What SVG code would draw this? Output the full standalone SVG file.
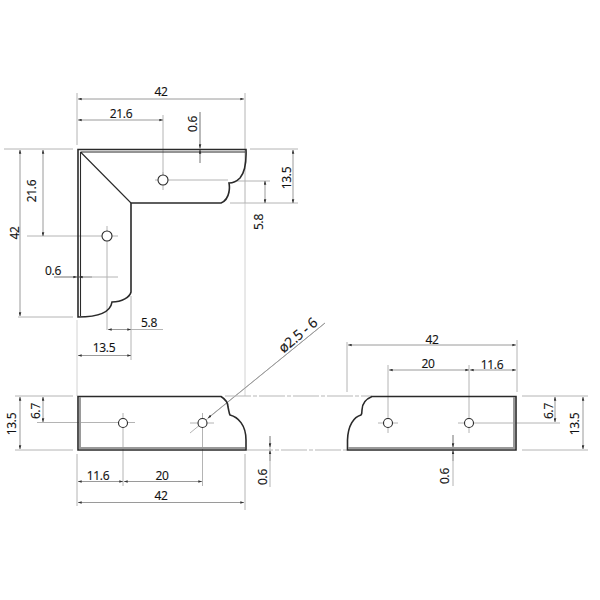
<svg xmlns="http://www.w3.org/2000/svg" width="600" height="600" viewBox="0 0 600 600">
<defs>
<marker id="a" viewBox="0 0 6 4" refX="5.5" refY="2" markerWidth="4" markerHeight="3" orient="auto-start-reverse"><path d="M0 0L6 2L0 4Z" fill="#333"/></marker>
</defs>
<style>
.p{fill:none;stroke:#2a2a2a;stroke-width:1.6;stroke-linejoin:miter}
.t{fill:none;stroke:#2a2a2a;stroke-width:1.1}
.g{fill:#9a9a9a;stroke:none}
.h{fill:#fff;stroke:#2a2a2a;stroke-width:1.1}
.e{stroke:#b4b4b4;stroke-width:1;fill:none}
.l{stroke:#d2d2d2;stroke-width:1;fill:none}
.d{stroke:#9a9a9a;stroke-width:1;fill:none;marker-start:url(#a);marker-end:url(#a)}
.s{stroke:#9a9a9a;stroke-width:1;fill:none;marker-end:url(#a)}
.c{stroke:#b8b8b8;stroke-width:1.2;stroke-dasharray:26 2 4 2;fill:none}
text{font-family:"Open Sans","Noto Sans","DejaVu Sans",sans-serif;font-size:12px;letter-spacing:-.3px;fill:#111;stroke:#111;stroke-width:.15;text-anchor:middle}
</style>
<g id="connectors">
<path class="e" d="M77 93V145M245 93V203M163 115V180"/>
<path class="l" d="M245 203V396M77 320V396"/>
<path class="e" d="M4 149H73M18 317H73M250 149H298M236 181H270M230 203H298M27 236H118M107 226V296M107 296V330M131 296V360M155 180H228M163 172V190M54 277H118"/>
<path class="e" d="M200 112V163"/>
<path class="d" d="M78 99H244"/>
<path class="d" d="M78 120H163"/>
<path class="d" d="M20 150V316"/>
<path class="d" d="M43 150V236"/>
<path class="d" d="M293 150V203"/>
<path class="d" d="M265 181V203"/>
<path class="d" d="M78 355.500H131"/>
<path class="d" d="M108 329.500H131"/>
<path class="e" d="M131 329.500H163"/>
<path class="s" d="M200 112V148"/>
<path class="s" d="M200 163V150"/>
<path class="s" d="M54 277H77"/>
<path class="s" d="M92 277H79"/>
<path class="e" d="M15 396H73M15 450H73M37 422.500H135M123 413V486M77 454V506M245 454V510M202.500 413V486M190 423H214"/>
<path class="d" d="M20 397V449"/>
<path class="d" d="M43 397V422"/>
<path class="d" d="M78 481.500H123"/>
<path class="d" d="M124 481.500H202"/>
<path class="d" d="M78 502.500H244"/>
<path class="e" d="M270 436V487"/>
<path class="s" d="M270 436V447"/>
<path class="s" d="M270 461V450.500"/>
<path class="e" d="M190 433L325 323"/>
<path class="s" d="M325 323L208 418"/>
<path class="c" d="M225 396H372M247 450H347"/>
<path class="e" d="M347 342V392M388 365V433M469 365V433M517 340V392M378 423H398M458 423H480M480 423H560M522 396H588M522 450H588M453 435V486"/>
<path class="d" d="M348 345H516"/>
<path class="d" d="M389 370H469"/>
<path class="d" d="M470 370H516"/>
<path class="d" d="M555 397V422"/>
<path class="d" d="M583 397V449"/>
<path class="s" d="M453 435V447"/>
<path class="s" d="M453 461V450.500"/>
</g>
<g id="corner-top">
<path class="p" d="M78 149.500H246C246.500 162 245 172 240 178C237 181 233 183 229 183C230 188 229 191 229 192C228 197 226 201 221 203H131V292C130 297 122 302 112 302C111 309 104 317 78 317Z"/>
<path class="t" d="M80.500 152H245M80.500 152V316M80.500 152L131 203"/>
<circle class="h" cx="163" cy="180" r="5"/>
<circle class="h" cx="107" cy="236" r="5"/>
</g>
<g id="side-left">
<path class="p" d="M78 396.500H221C225 399 228 403 228 407C229 411 229 413 230 415C238 417 246 425 246 440V450H78Z"/>
<path class="g" d="M79 397H81V447H245V449H79Z"/>
<circle class="h" cx="123" cy="423" r="4.500"/>
<circle class="h" cx="202.500" cy="423" r="4.500"/>
</g>
<g id="side-right">
<path class="p" d="M516 396.500H372C366 399 362 404 362 410C362 413 362 414 361 415C354 417 348 425 347.500 440V450H516Z"/>
<path class="g" d="M515 397H513V447H348V449H515Z"/>
<circle class="h" cx="388" cy="423" r="4.500"/>
<circle class="h" cx="469" cy="423" r="4.500"/>
</g>
<g id="labels">
<text x="161" y="96">42</text>
<text x="121" y="118">21.6</text>
<text transform="translate(197 124) rotate(-90)">0.6</text>
<text transform="translate(36 191) rotate(-90)">21.6</text>
<text transform="translate(19 233) rotate(-90)">42</text>
<text x="53" y="275">0.6</text>
<text transform="translate(291 178) rotate(-90)">13.5</text>
<text transform="translate(263 222) rotate(-90)">5.8</text>
<text x="149" y="327">5.8</text>
<text x="104" y="352">13.5</text>
<text transform="translate(301 339) rotate(-40)" style="font-size:14px">ø2.5 - 6</text>
<text x="432" y="344">42</text>
<text x="428" y="368">20</text>
<text x="492" y="369">11.6</text>
<text transform="translate(40 411) rotate(-90)">6.7</text>
<text transform="translate(16 424) rotate(-90)">13.5</text>
<text x="98" y="480">11.6</text>
<text x="162" y="480">20</text>
<text x="161" y="500">42</text>
<text transform="translate(267 477) rotate(-90)">0.6</text>
<text transform="translate(449 476) rotate(-90)">0.6</text>
<text transform="translate(553 411) rotate(-90)">6.7</text>
<text transform="translate(579 424) rotate(-90)">13.5</text>
</g>
</svg>
